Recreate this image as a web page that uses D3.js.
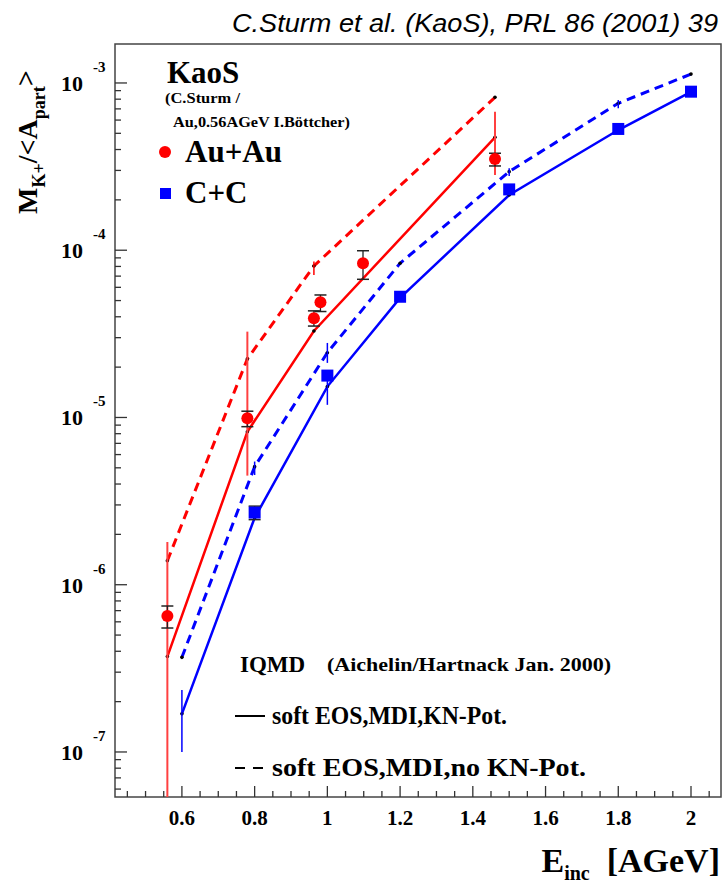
<!DOCTYPE html>
<html>
<head>
<meta charset="utf-8">
<script src="https://cdn.jsdelivr.net/npm/d3@7"></script>
<style>
  body { margin: 0; background: #fff; }
  text { font-family: "Liberation Serif", "DejaVu Serif", serif; font-weight: bold; }
</style>
</head>
<body>
<div id="chart"></div>
<script>
// KaoS data, Au+Au
var auE = [0.56, 0.78, 0.963, 0.981, 1.098, 1.461];
var auM = [6.5e-7, 9.88e-6, 3.92e-5, 4.89e-5, 8.36e-5, 3.51e-4];
var auStatLo = [5.51e-7, 8.81e-6, 3.52e-5, 4.30e-5, 6.70e-5, 3.19e-4];
var auStatHi = [7.46e-7, 1.09e-5, 4.34e-5, 5.40e-5, 9.93e-5, 3.80e-4];
var auSysLo = [1e-9, 4.49e-6, null, null, null, 2.82e-4];
var auSysHi = [1.80e-6, 3.26e-5, null, null, null, 6.73e-4];

// KaoS data, C+C
var ccE = [0.8, 1.0, 1.2, 1.5, 1.8, 2.0];
var ccM = [2.70e-6, 1.78e-5, 5.27e-5, 2.31e-4, 5.31e-4, 8.87e-4];
var ccStatLo = [2.45e-6, null, null, null, null, null];
var ccStatHi = [2.95e-6, null, null, null, null, null];

// IQMD, Au+Au
var iqAuE = [0.56, 0.78, 0.963, 1.461];
var iqAuKN = [3.72e-7, 8.22e-6, 3.29e-5, 4.73e-4];
var iqAuNoKN = [1.39e-6, 2.24e-5, 8.05e-5, 8.21e-4];
var iqAuNoKNLo = [null, null, 7.11e-5, null];
var iqAuNoKNHi = [null, null, 8.55e-5, null];

// IQMD, C+C
var iqCcE = [0.6, 0.8, 1.0, 1.2, 1.5, 1.8, 2.0];
var iqCcKN = [1.69e-7, 2.51e-6, 1.53e-5, 5.19e-5, 2.14e-4, 5.23e-4, 8.84e-4];
var iqCcKNLo = [1.00e-7, null, 1.19e-5, null, null, null, null];
var iqCcKNHi = [2.35e-7, null, 1.75e-5, null, null, null, null];
var iqCcNoKN = [3.68e-7, 5.08e-6, 2.44e-5, 8.36e-5, 2.95e-4, 7.56e-4, 1.13e-3];
var iqCcNoKNLo = [null, 4.53e-6, 2.12e-5, null, 2.78e-4, 7.06e-4, null];
var iqCcNoKNHi = [null, 5.45e-6, 2.79e-5, null, 3.09e-4, 7.91e-4, null];

var xLabels = ["0.6", "0.8", "1", "1.2", "1.4", "1.6", "1.8", "2"];
var yDecades = [-7, -6, -5, -4, -3];

var svgWidth = 724, svgHeight = 885;
var margin = { top: 44, right: 3, bottom: 88, left: 115 };
var width = svgWidth - margin.left - margin.right;
var height = svgHeight - margin.top - margin.bottom;

var svg = d3.select("#chart").append("svg")
  .attr("width", svgWidth)
  .attr("height", svgHeight);

var x = d3.scaleLinear().domain([0.416, 2.0825]).range([0, width]);
var y = d3.scaleLog().domain([5.38e-8, 1.71e-3]).range([height, 0]);

svg.append("defs").append("clipPath").attr("id", "clip")
  .append("rect").attr("width", width).attr("height", height);

var g = svg.append("g")
  .attr("transform", "translate(" + margin.left + "," + margin.top + ")");

// top reference
svg.append("text")
  .attr("x", 718).attr("y", 32)
  .attr("text-anchor", "end")
  .style("font-family", "'Liberation Sans', Arial, sans-serif")
  .style("font-weight", "normal")
  .style("font-style", "italic")
  .attr("font-size", 25)
  .attr("textLength", 486).attr("lengthAdjust", "spacingAndGlyphs")
  .text("C.Sturm et al. (KaoS), PRL 86 (2001) 39");

// frame
g.append("rect")
  .attr("width", width).attr("height", height)
  .attr("fill", "none").attr("stroke", "#444").attr("stroke-width", 1.5);

// x ticks
var xt = d3.range(0.45, 2.08, 0.05);
g.selectAll(".xt").data(xt).enter().append("line")
  .attr("x1", function(d) { return x(d); })
  .attr("x2", function(d) { return x(d); })
  .attr("y1", height)
  .attr("y2", function(d) { return Math.abs(d * 5 - Math.round(d * 5)) < 1e-6 ? height - 11 : height - 6; })
  .attr("stroke", "#333").attr("stroke-width", 1.3);

g.selectAll(".xl").data(xLabels).enter().append("text")
  .attr("x", function(d) { return x(+d); })
  .attr("y", height + 28)
  .attr("text-anchor", "middle")
  .attr("font-size", 21)
  .text(function(d) { return d; });

// y ticks
var yt = [];
for (var e = -8; e <= -3; e++) {
  for (var m = 1; m <= 9; m++) {
    var v = m * Math.pow(10, e);
    if (v >= 5.38e-8 && v <= 1.71e-3) yt.push({ v: v, major: m === 1 });
  }
}
g.selectAll(".yt").data(yt).enter().append("line")
  .attr("x1", 0)
  .attr("x2", function(d) { return d.major ? 12 : 6; })
  .attr("y1", function(d) { return y(d.v); })
  .attr("y2", function(d) { return y(d.v); })
  .attr("stroke", "#333").attr("stroke-width", 1.3);

var yl = g.selectAll(".yl").data(yDecades).enter().append("g")
  .attr("transform", function(d) { return "translate(0," + y(Math.pow(10, d)) + ")"; });
yl.append("text")
  .attr("x", -32).attr("y", 8)
  .attr("text-anchor", "end")
  .attr("font-size", 22)
  .text("10");
yl.append("text")
  .attr("x", -22).attr("y", -11)
  .attr("font-size", 15)
  .text(function(d) { return d; });

// axis titles
var yTitle = svg.append("text")
  .attr("transform", "translate(37,214) rotate(-90)")
  .attr("font-size", 28);
yTitle.append("tspan").text("M");
yTitle.append("tspan").attr("font-size", 18).attr("dy", 8).text("K+");
yTitle.append("tspan").attr("dy", -8).text("/<A");
yTitle.append("tspan").attr("font-size", 18).attr("dy", 8).text("part");
yTitle.append("tspan").attr("dy", -10).text(">");

var xTitle = svg.append("text")
  .attr("x", 720).attr("y", 872)
  .attr("text-anchor", "end")
  .attr("font-size", 34);
xTitle.append("tspan").text("E");
xTitle.append("tspan").attr("font-size", 20).attr("dy", 8).text("inc");
xTitle.append("tspan").attr("dy", -8).text("\u00a0\u00a0[AGeV]");

var plot = g.append("g").attr("clip-path", "url(#clip)");

function series(E, V) {
  return E.map(function(e, i) { return { e: e, v: V[i] }; });
}
var line = d3.line()
  .x(function(d) { return x(d.e); })
  .y(function(d) { return y(d.v); });

// IQMD curves
var curves = [
  { d: series(iqAuE, iqAuNoKN), c: "#ff0000", dash: "9,6" },
  { d: series(iqAuE, iqAuKN), c: "#ff0000", dash: null },
  { d: series(iqCcE, iqCcNoKN), c: "#0000ff", dash: "9,6" },
  { d: series(iqCcE, iqCcKN), c: "#0000ff", dash: null }
];
curves.forEach(function(cv) {
  plot.append("path")
    .datum(cv.d)
    .attr("fill", "none")
    .attr("stroke", cv.c)
    .attr("stroke-width", cv.dash ? 3 : 2.5)
    .attr("stroke-dasharray", cv.dash)
    .attr("d", line);
  plot.selectAll(null).data(cv.d).enter().append("circle")
    .attr("cx", function(d) { return x(d.e); })
    .attr("cy", function(d) { return y(d.v); })
    .attr("r", 1.8).attr("fill", "#000");
});

// IQMD error bars
function modelErr(E, lo, hi, col) {
  E.forEach(function(e, i) {
    if (lo[i] == null) return;
    plot.append("line")
      .attr("x1", x(e)).attr("x2", x(e))
      .attr("y1", y(lo[i])).attr("y2", y(hi[i]))
      .attr("stroke", col).attr("stroke-width", 1.5);
  });
}
modelErr(iqAuE, iqAuNoKNLo, iqAuNoKNHi, "#ff0000");
modelErr(iqCcE, iqCcKNLo, iqCcKNHi, "#0000ff");
modelErr(iqCcE, iqCcNoKNLo, iqCcNoKNHi, "#0000ff");

// systematic errors of Au+Au
auE.forEach(function(e, i) {
  if (auSysLo[i] == null) return;
  plot.append("line")
    .attr("x1", x(e)).attr("x2", x(e))
    .attr("y1", y(auSysLo[i])).attr("y2", y(auSysHi[i]))
    .attr("stroke", "#ff4040").attr("stroke-width", 2);
});

// statistical errors with caps
function statErr(E, lo, hi) {
  E.forEach(function(e, i) {
    if (lo[i] == null) return;
    var cx = x(e);
    plot.append("line")
      .attr("x1", cx).attr("x2", cx)
      .attr("y1", y(lo[i])).attr("y2", y(hi[i]))
      .attr("stroke", "#222").attr("stroke-width", 1.3);
    [lo[i], hi[i]].forEach(function(b) {
      plot.append("line")
        .attr("x1", cx - 6).attr("x2", cx + 6)
        .attr("y1", y(b)).attr("y2", y(b))
        .attr("stroke", "#222").attr("stroke-width", 1.5);
    });
  });
}
statErr(auE, auStatLo, auStatHi);
statErr(ccE, ccStatLo, ccStatHi);

// data markers
plot.selectAll(".au").data(series(auE, auM)).enter().append("circle")
  .attr("cx", function(d) { return x(d.e); })
  .attr("cy", function(d) { return y(d.v); })
  .attr("r", 6).attr("fill", "#ff0000");

plot.selectAll(".cc").data(series(ccE, ccM)).enter().append("rect")
  .attr("x", function(d) { return x(d.e) - 6; })
  .attr("y", function(d) { return y(d.v) - 6; })
  .attr("width", 12).attr("height", 12)
  .attr("fill", "#0000ff");

// legend, top left
svg.append("text").attr("x", 167).attr("y", 83).attr("font-size", 31).text("KaoS");
svg.append("text").attr("x", 165).attr("y", 103).attr("font-size", 14)
  .attr("textLength", 75).attr("lengthAdjust", "spacingAndGlyphs").text("(C.Sturm /");
svg.append("text").attr("x", 173).attr("y", 127).attr("font-size", 14)
  .attr("textLength", 177).attr("lengthAdjust", "spacingAndGlyphs").text("Au,0.56AGeV I.B\u00f6ttcher)");
svg.append("circle").attr("cx", 165).attr("cy", 152).attr("r", 6).attr("fill", "#ff0000");
svg.append("text").attr("x", 185).attr("y", 162).attr("font-size", 31).text("Au+Au");
svg.append("rect").attr("x", 160).attr("y", 188).attr("width", 11).attr("height", 11).attr("fill", "#0000ff");
svg.append("text").attr("x", 185).attr("y", 203).attr("font-size", 31).text("C+C");

// legend, bottom
svg.append("text").attr("x", 240).attr("y", 672).attr("font-size", 23).text("IQMD");
svg.append("text").attr("x", 327).attr("y", 671).attr("font-size", 19)
  .attr("textLength", 284).attr("lengthAdjust", "spacingAndGlyphs").text("(Aichelin/Hartnack Jan. 2000)");
svg.append("line").attr("x1", 235).attr("x2", 265).attr("y1", 716).attr("y2", 716)
  .attr("stroke", "#000").attr("stroke-width", 2);
svg.append("text").attr("x", 272).attr("y", 724).attr("font-size", 25)
  .attr("textLength", 235).attr("lengthAdjust", "spacingAndGlyphs").text("soft EOS,MDI,KN-Pot.");
svg.append("line").attr("x1", 235).attr("x2", 264).attr("y1", 768).attr("y2", 768)
  .attr("stroke", "#000").attr("stroke-width", 2).attr("stroke-dasharray", "10,8");
svg.append("text").attr("x", 272).attr("y", 776).attr("font-size", 25)
  .attr("textLength", 314).attr("lengthAdjust", "spacingAndGlyphs").text("soft EOS,MDI,no KN-Pot.");
</script>
</body>
</html>
